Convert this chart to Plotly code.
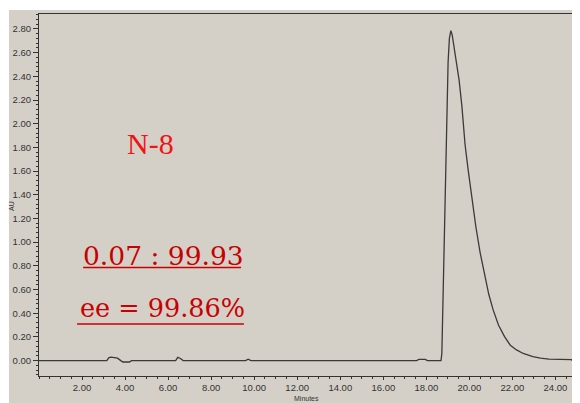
import plotly.graph_objects as go

# Chromatogram data (minutes, AU)
time_min = [0.0, 3.15, 3.25, 3.35, 3.5, 3.65, 3.8, 3.9, 4.2, 4.3,
            6.35, 6.45, 6.55, 6.7, 9.6, 9.72, 9.85,
            17.55, 17.65, 17.95, 18.05, 18.68,
            18.72, 18.76, 18.81, 18.86, 18.91, 18.96, 19.01, 19.07, 19.14,
            19.2, 19.26, 19.34, 19.42, 19.52, 19.65, 19.8, 19.95, 20.1,
            20.3, 20.5, 20.71, 20.9, 21.1, 21.35, 21.64, 21.9, 22.19,
            22.5, 22.95, 23.3, 23.7, 24.2, 24.74, 24.78, 25.0]
signal_au = [0.0, 0.0, 0.025, 0.03, 0.025, 0.02, 0.0, -0.012, -0.012, 0.0,
             0.0, 0.028, 0.02, 0.0, 0.0, 0.012, 0.0,
             0.0, 0.01, 0.01, 0.0, 0.0,
             0.06, 0.4, 0.85, 1.27, 1.7, 2.2, 2.52, 2.72, 2.785,
             2.75, 2.68, 2.6, 2.5, 2.37, 2.15, 1.82, 1.6, 1.38,
             1.13, 0.91, 0.71, 0.56, 0.43, 0.3, 0.2, 0.13, 0.09,
             0.06, 0.034, 0.02, 0.012, 0.01, 0.008, 0.0, 0.0]

x_ticks = [2, 4, 6, 8, 10, 12, 14, 16, 18, 20, 22, 24]
y_ticks = [0.0, 0.2, 0.4, 0.6, 0.8, 1.0, 1.2, 1.4, 1.6, 1.8, 2.0, 2.2, 2.4, 2.6, 2.8]

label_sample = "N-8"
label_ratio = "0.07 : 99.93"
label_ee = "ee = 99.86%"

GRAY = "#d4d0c8"
AXC = "#333333"

fig = go.Figure()
fig.add_trace(go.Scatter(x=time_min, y=signal_au, mode="lines",
                         line=dict(color="#3a3a3a", width=1.3),
                         hoverinfo="skip", showlegend=False))

tickfont = dict(family="Liberation Sans, Arial, sans-serif", size=9.5, color=AXC)

fig.update_layout(
    width=572, height=395,
    margin=dict(l=31, r=3, t=6, b=27),
    paper_bgcolor="white",
    plot_bgcolor=GRAY,
    showlegend=False,
    xaxis=dict(range=[0, 25], tickvals=x_ticks,
               ticktext=[f"{v:.2f}" for v in x_ticks],
               showgrid=False, zeroline=False,
               showline=True, linecolor=AXC, linewidth=1, mirror=True,
               ticks="outside", ticklen=3, tickcolor=AXC, tickwidth=1,
               minor=dict(ticks="outside", ticklen=2, dtick=0.5, tick0=0,
                          tickcolor=AXC, showgrid=False),
               tickfont=tickfont, fixedrange=True),
    yaxis=dict(range=[-0.13, 2.926], tickvals=y_ticks,
               ticktext=[f"{v:.2f}" for v in y_ticks],
               showgrid=False, zeroline=False,
               showline=True, linecolor=AXC, linewidth=1, mirror=True,
               ticks="outside", ticklen=5, tickcolor=AXC, tickwidth=1,
               minor=dict(ticks="outside", ticklen=2, dtick=0.04, tick0=0,
                          tickcolor=AXC, showgrid=False),
               tickfont=tickfont, fixedrange=True),
    shapes=[
        dict(type="rect", xref="paper", yref="paper",
             x0=-0.0558, x1=1.01, y0=-0.08, y1=1.011,
             fillcolor=GRAY, line=dict(width=0), layer="below"),
        dict(type="line", xref="x", yref="y", x0=2.05, x1=9.39, y0=0.785, y1=0.785,
             line=dict(color="#c80000", width=1.5)),
        dict(type="line", xref="x", yref="y", x0=1.77, x1=9.52, y0=0.31, y1=0.31,
             line=dict(color="#c80000", width=1.5)),
    ],
    annotations=[
        dict(x=5.17, y=1.837, xref="x", yref="y", text=label_sample, showarrow=False,
             font=dict(family="Liberation Serif, Times New Roman, serif", size=30, color="#f01414"),
             xanchor="center", yanchor="middle"),
        dict(x=5.77, y=0.89, xref="x", yref="y", text=label_ratio, showarrow=False,
             font=dict(family="DejaVu Serif, serif", size=26.5, color="#c80000"),
             xanchor="center", yanchor="middle"),
        dict(x=5.72, y=0.44, xref="x", yref="y", text=label_ee, showarrow=False,
             font=dict(family="DejaVu Serif, serif", size=25.5, color="#c80000"),
             xanchor="center", yanchor="middle"),
        dict(x=0.498, y=-0.063, xref="paper", yref="paper", text="Minutes", showarrow=False,
             font=dict(family="Liberation Sans, Arial, sans-serif", size=7, color=AXC),
             xanchor="center", yanchor="middle"),
        dict(x=-0.05, y=0.47, xref="paper", yref="paper", text="AU", showarrow=False,
             textangle=-90,
             font=dict(family="Liberation Sans, Arial, sans-serif", size=7, color=AXC),
             xanchor="center", yanchor="middle"),
    ],
)

fig.write_html("out.html")
